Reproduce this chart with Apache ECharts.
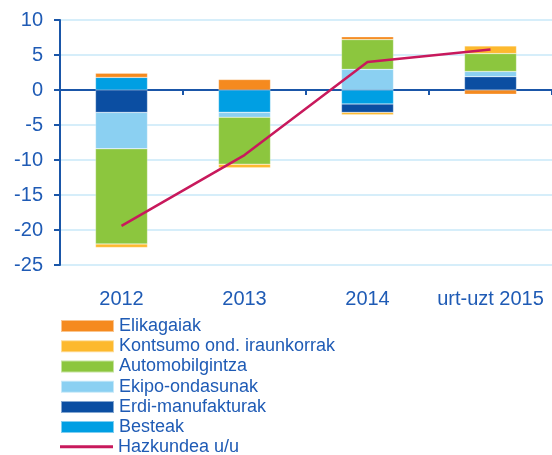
<!DOCTYPE html>
<html>
<head>
<meta charset="utf-8">
<script src="https://cdn.jsdelivr.net/npm/echarts@6/dist/echarts.min.js"></script>
<style>
html,body{margin:0;padding:0;background:#fff;}
#chart{width:552px;height:455px;}
</style>
</head>
<body>
<div id="chart"></div>
<script>
const categories = ['2012', '2013', '2014', 'urt-uzt 2015'];
const besteak = [1.8, -3.2, -2.0, 0];
const erdiManufakturak = [-3.2, 0, -1.2, 1.9];
const ekipoOndasunak = [-5.2, -0.7, 2.95, 0.75];
const automobilgintza = [-13.6, -6.7, 4.25, 2.55];
const kontsumoOnd = [-0.5, -0.5, -0.35, 1.1];
const elikagaiak = [0.6, 1.5, 0.4, -0.6];
const hazkundea = [-19.4, -9.3, 4.0, 5.8];
const yTicks = [-25, -20, -15, -10, -5, 0, 5, 10];

const FONT = 'Liberation Sans, Arial, sans-serif';
const TXT = '#1F5BB5';
const AX = '#1A56A8';
const LINE = '#C8195C';

function bar(name, data, color) {
  return {
    name: name, type: 'bar', stack: 'total', data: data,
    barWidth: 52, xAxisIndex: 0,
    itemStyle: { color: color, borderColor: 'rgba(255,255,255,0.5)', borderWidth: 0.5 },
    emphasis: { disabled: true }
  };
}

const legendText = { fontFamily: FONT, fontSize: 18, color: TXT, lineHeight: 18.2 };

const chart = echarts.init(document.getElementById('chart'), null, { renderer: 'canvas' });
chart.setOption({
  animation: false,
  backgroundColor: '#fff',
  grid: { left: 60, top: 20, right: -4, bottom: 190, containLabel: false },
  legend: [
    {
      orient: 'vertical', left: 60, top: 317, padding: 0, height: 200,
      itemWidth: 53, itemHeight: 12, itemGap: 2, icon: 'rect',
      textStyle: legendText,
      data: ['Elikagaiak', 'Kontsumo ond. iraunkorrak', 'Automobilgintza',
             'Ekipo-ondasunak', 'Erdi-manufakturak', 'Besteak']
    },
    {
      orient: 'vertical', left: 60, top: 437.6, padding: 0,
      itemWidth: 53, itemHeight: 3, icon: 'rect',
      textStyle: legendText,
      data: ['Hazkundea u/u']
    }
  ],
  xAxis: [
    {
      type: 'category', data: categories, position: 'bottom',
      axisLine: { onZero: true, lineStyle: { color: AX, width: 2 } },
      axisTick: { show: true, length: 5, lineStyle: { color: AX, width: 2 } },
      axisLabel: { show: false },
      splitLine: { show: false }
    },
    {
      type: 'category', data: categories, position: 'bottom',
      axisLine: { show: false, onZero: false },
      axisTick: { show: false },
      axisLabel: { show: true, interval: 0, margin: 24, fontFamily: FONT, fontSize: 20, color: TXT },
      splitLine: { show: false }
    }
  ],
  yAxis: {
    type: 'value', min: yTicks[0], max: yTicks[yTicks.length - 1], interval: 5,
    axisLine: { show: true, lineStyle: { color: AX, width: 2 } },
    axisTick: { show: true, length: 6, inside: false, lineStyle: { color: AX, width: 2 } },
    axisLabel: { margin: 17, fontFamily: FONT, fontSize: 20, color: TXT },
    splitLine: { show: true, lineStyle: { color: '#C9E8F8', width: 1.5 } }
  },
  series: [
    bar('Besteak', besteak, '#009FE3'),
    bar('Erdi-manufakturak', erdiManufakturak, '#0B4EA2'),
    bar('Ekipo-ondasunak', ekipoOndasunak, '#8BD0F2'),
    bar('Automobilgintza', automobilgintza, '#8CC63E'),
    bar('Kontsumo ond. iraunkorrak', kontsumoOnd, '#FDB92E'),
    bar('Elikagaiak', elikagaiak, '#F58A1F'),
    {
      name: 'Hazkundea u/u', type: 'line', data: hazkundea, xAxisIndex: 0,
      symbol: 'none', lineStyle: { color: LINE, width: 2.5 },
      itemStyle: { color: LINE }, z: 5,
      emphasis: { disabled: true }
    }
  ]
});
</script>
</body>
</html>
